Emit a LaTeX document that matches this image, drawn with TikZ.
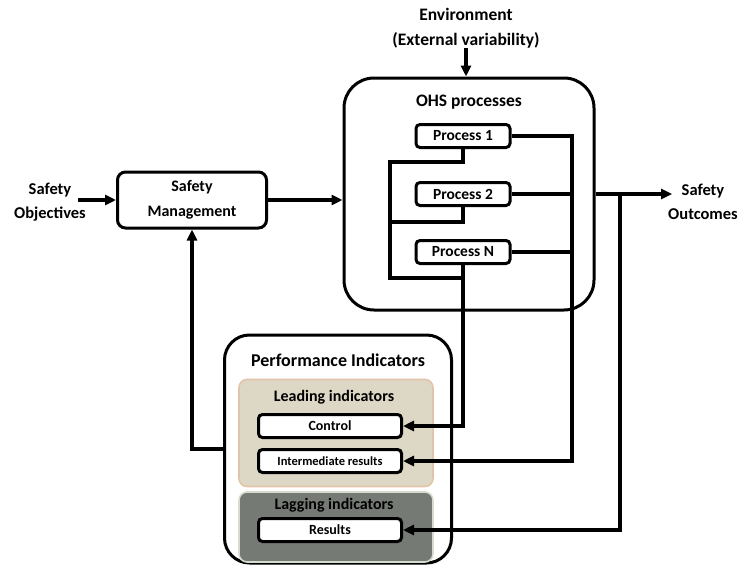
\documentclass[tikz,border=0pt]{standalone}
\usepackage{fontspec}
\setmainfont{Carlito}
\usepackage{tikz}
\usetikzlibrary{arrows.meta,positioning}
\usepackage{xcolor}
\definecolor{leadfill}{RGB}{221,216,197}
\definecolor{leadedge}{RGB}{226,196,170}
\definecolor{lagfill}{RGB}{118,122,117}
\definecolor{lagedge}{RGB}{214,220,206}
\tikzstyle{arrow} = [line width=3.2pt,->,>={Triangle[length=11pt,width=10pt]}]
\tikzstyle{wire} = [line width=3.2pt]

\begin{document}
\begin{tikzpicture}[
    x=1pt, y=-1pt,
    every node/.style={font=\fontsize{16.5}{24}\selectfont\bfseries},
    txt/.style={align=center, inner sep=0pt},
    bigbox/.style={rectangle, rounded corners=30pt, draw, line width=3pt},
    procbox/.style={rectangle, rounded corners=4pt, draw, line width=3pt, fill=white, minimum width=94pt, minimum height=23pt, inner sep=0pt, font=\fontsize{15.5}{17}\selectfont\bfseries},
    indbox/.style={rectangle, rounded corners=4pt, draw, line width=3pt, fill=white, minimum width=143pt, minimum height=23pt, inner sep=0pt, font=\fontsize{14}{16}\selectfont\bfseries},
    panel/.style={rectangle, rounded corners=8pt, line width=1.6pt, minimum width=194pt}
]
\useasboundingbox (0,0) rectangle (742,565);

% Inputs and outputs
\node[txt] (obj) at (50,202) {Safety\\Objectives};
\node[txt, font=\fontsize{17.5}{25}\selectfont\bfseries] (env) at (466,28) {Environment\\(External variability)};
\node[txt] (out) at (703,202) {Safety\\Outcomes};

% Safety management
\node[rectangle, rounded corners=8pt, draw, line width=3pt, minimum width=149pt, minimum height=56pt, align=center, inner sep=0pt, font=\fontsize{16}{25}\selectfont\bfseries] (sm) at (192,200) {Safety\\Management};

% OHS processes
\node[bigbox, minimum width=250pt, minimum height=232pt] (ohs) at (469,194) {};
\node[txt, font=\fontsize{17.5}{20}\selectfont\bfseries] (ohstitle) at (469,102) {OHS processes};
\node[procbox] (p1) at (463,136) {Process 1};
\node[procbox] (p2) at (463,194) {Process 2};
\node[procbox] (pn) at (463,252) {Process N};

% Performance indicators
\node[bigbox, rounded corners=25pt, minimum width=227pt, minimum height=228pt] (pi) at (338,449) {};
\node[txt, font=\fontsize{18}{20}\selectfont\bfseries] (pititle) at (338,360) {Performance Indicators};
\node[panel, fill=leadfill, draw=leadedge, minimum height=107pt] (lead) at (336,433) {};
\node[panel, fill=lagfill, draw=lagedge, minimum height=70pt] (lag) at (336,527) {};
\node[txt, font=\fontsize{16}{18}\selectfont\bfseries] (leadtitle) at (334,397) {Leading indicators};
\node[txt, font=\fontsize{16}{18}\selectfont\bfseries] (lagtitle) at (334,505) {Lagging indicators};
\node[indbox] (ctrl) at (330,426) {Control};
\node[indbox, font=\fontsize{12.5}{14}\selectfont\bfseries] (ir) at (330,461) {Intermediate results};
\node[indbox] (res) at (330,530) {Results};

% Bracket between processes
\coordinate (brk1) at (390,162);
\coordinate (brk2) at (390,222);
\coordinate (brk3) at (390,278);
\draw[wire] (p1.south) |- (brk1) -- (brk3) -- (brk3 -| pn.south);
\draw[wire] (p2.south) |- (brk2);

% Right bus to intermediate results
\coordinate (bus) at (572,461);
\draw[arrow] (p1.east) -| (bus) -- (ir.east);
\draw[wire] (p2.east) -- (p2.east -| bus);
\draw[wire] (pn.east) -- (pn.east -| bus);
\draw[arrow] (pn.south) |- (ctrl.east);

% Main flow
\draw[arrow] ([xshift=-8pt]obj.east |- sm.west) -- (sm.west);
\draw[arrow] (sm.east) -- (sm.east -| ohs.west);
\draw[arrow] (env.south) -- (env.south |- ohs.north);
\draw[arrow] (ohs.east) -- ([xshift=4pt]ohs.east -| out.west);
\coordinate (tap) at (620,194);
\draw[arrow] (tap) |- (res.east);

% Feedback
\draw[arrow] (pi.west) -| (sm.south);

\end{tikzpicture}
\end{document}
